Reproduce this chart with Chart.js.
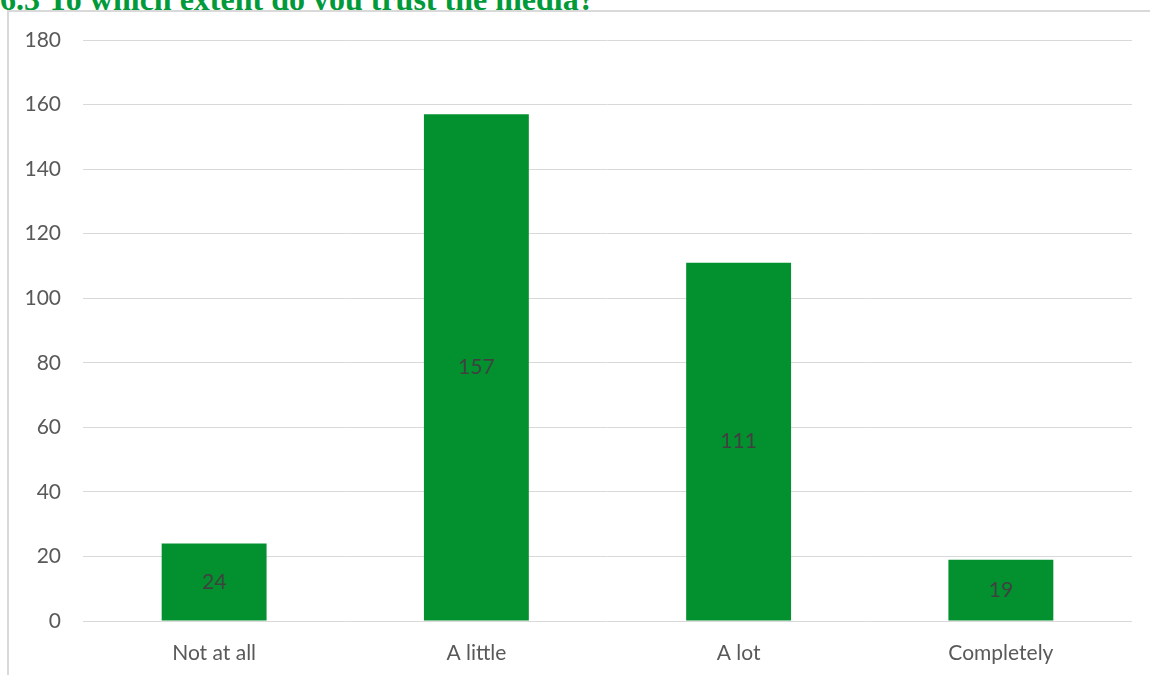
<!DOCTYPE html>
<html>
<head>
<meta charset="utf-8">
<script src="https://cdn.jsdelivr.net/npm/chart.js@4.4.0/dist/chart.umd.min.js"></script>
<style>
  html, body { margin: 0; padding: 0; background: #fff; overflow: hidden; }
  body { width: 1150px; height: 675px; position: relative; }
  #title {
    position: absolute; left: 0; top: -17px;
    font: bold 32px "Liberation Serif", serif; color: #009a3a;
    white-space: nowrap; line-height: 32px;
  }
  #frame {
    position: absolute; left: 7px; top: 10px; width: 1200px; height: 700px;
    border: 2px solid #d9d9d9; box-sizing: border-box; background: #fff;
  }
  #wrap { position: absolute; left: 0; top: 0; width: 1150px; height: 675px; }
</style>
</head>
<body>
<div id="title">6.3 To which extent do you trust the media?</div>
<div id="frame"></div>
<div id="wrap"><canvas id="chart" width="1150" height="675"></canvas></div>
<script>
const categories = ["Not at all", "A little", "A lot", "Completely"];
const counts = [24, 157, 111, 19];
const yTicks = [0, 20, 40, 60, 80, 100, 120, 140, 160, 180];

// etiquetas de valor en el centro de cada barra
const barLabels = {
  id: "barLabels",
  afterDatasetsDraw(chart) {
    const ctx = chart.ctx;
    const meta = chart.getDatasetMeta(0);
    ctx.save();
    ctx.font = "21px Lato, sans-serif";
    ctx.fillStyle = "#404040";
    ctx.textAlign = "center";
    ctx.textBaseline = "middle";
    meta.data.forEach((bar, i) => {
      const mid = (bar.y + bar.base) / 2;
      ctx.fillText(counts[i], bar.x, mid);
    });
    ctx.restore();
  }
};

new Chart(document.getElementById("chart"), {
  type: "bar",
  data: {
    labels: categories,
    datasets: [{
      data: counts,
      backgroundColor: "#03912f",
      borderWidth: 0,
      categoryPercentage: 1,
      barPercentage: 0.4
    }]
  },
  options: {
    responsive: false,
    animation: false,
    layout: { padding: { top: 40, right: 18, bottom: 0, left: 0 } },
    plugins: { legend: { display: false }, tooltip: { enabled: false } },
    scales: {
      x: {
        grid: { display: false },
        border: { display: false },
        ticks: { color: "#595959", font: { family: "Lato", size: 21 }, padding: 12, autoSkip: false, maxRotation: 0 },
        afterFit(scale) { scale.height = 54; }
      },
      y: {
        min: 0,
        max: 180,
        afterBuildTicks(scale) { scale.ticks = yTicks.map(v => ({ value: v })); },
        grid: { color: "#d9d9d9", lineWidth: 1, drawTicks: false },
        border: { display: false },
        ticks: { color: "#595959", font: { family: "Lato", size: 21 }, padding: 22, autoSkip: false },
        afterFit(scale) { scale.width = 83; }
      }
    }
  },
  plugins: [barLabels]
});
</script>
</body>
</html>
